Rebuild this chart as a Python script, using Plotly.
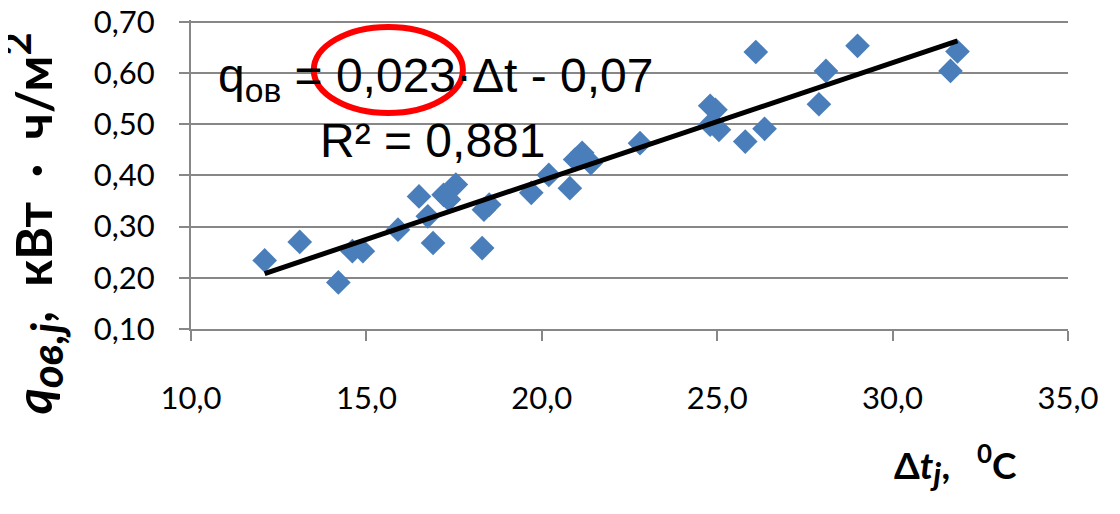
import plotly.graph_objects as go

# Data
dt = [12.1, 13.1, 14.2, 14.6, 14.9, 15.9, 16.5, 16.75, 16.9, 17.2, 17.35, 17.55,
      18.3, 18.35, 18.5, 19.7, 20.2, 20.8, 20.95, 21.15, 21.4, 22.8, 24.8, 24.95,
      24.8, 25.05, 25.8, 26.1, 26.35, 27.9, 28.1, 29.0, 31.65, 31.85]
q = [0.234, 0.270, 0.191, 0.252, 0.252, 0.294, 0.359, 0.320, 0.268, 0.362, 0.353, 0.382,
     0.258, 0.333, 0.343, 0.366, 0.401, 0.375, 0.431, 0.444, 0.424, 0.463, 0.536, 0.528,
     0.499, 0.489, 0.466, 0.641, 0.491, 0.539, 0.604, 0.653, 0.604, 0.642]

slope = 0.023
intercept = -0.07
x_ticks = [10, 15, 20, 25, 30, 35]
y_ticks = [0.1, 0.2, 0.3, 0.4, 0.5, 0.6, 0.7]

fit_x = [min(dt), max(dt)]
fit_y = [slope * v + intercept for v in fit_x]

GRID = "#878787"
TICKFONT = dict(family="Lato, Calibri, sans-serif", size=31, color="#000000")
YTITLEFONT = dict(family="Lato, Calibri, sans-serif", size=50, color="#000000")
XTITLEFONT = dict(family="Lato, Calibri, sans-serif", size=37, color="#000000")
EQFONT = dict(family="Liberation Sans, Arial, sans-serif", size=48, color="#000000")
NB = "\u00a0"

fig = go.Figure()
fig.add_trace(go.Scatter(x=dt, y=q, mode="markers",
                         marker=dict(symbol="diamond", size=19, color="#4A7EBB", line=dict(width=0)),
                         showlegend=False))
fig.add_trace(go.Scatter(x=fit_x, y=fit_y, mode="lines",
                         line=dict(color="#000000", width=5), showlegend=False))

# the page body adds an 8 px offset, so the figure is 16 px smaller and margins are shifted
fig.update_layout(
    width=1104, height=498,
    margin=dict(l=183, r=44, t=12, b=177, autoexpand=False),
    paper_bgcolor="white", plot_bgcolor="white",
    separators=", ",
    xaxis=dict(range=[10, 35], tickvals=x_ticks, tickformat=".1f", automargin=False,
               showgrid=False, zeroline=False, showline=True, linecolor=GRID, linewidth=2,
               ticks="outside", ticklen=10, tickwidth=2, tickcolor=GRID,
               tickfont=TICKFONT, ticklabelstandoff=31, ticklabeloverflow="allow"),
    yaxis=dict(range=[0.1, 0.7035], tickvals=y_ticks, tickformat=".2f", automargin=False,
               showgrid=True, gridcolor=GRID, gridwidth=2, zeroline=False,
               showline=True, linecolor=GRID, linewidth=2,
               ticks="outside", ticklen=10, tickwidth=2, tickcolor=GRID,
               tickfont=TICKFONT, ticklabelstandoff=18, ticklabeloverflow="allow"),
)

fig.add_shape(type="circle", xref="x", yref="y", x0=13.50, x1=17.75, y0=0.522, y1=0.690,
              line=dict(color="#FF0000", width=6))

fig.add_annotation(xref="x", yref="y", x=16.97, y=0.588, showarrow=False,
                   text="q<sub>ов</sub> = 0,023·Δt - 0,07", font=EQFONT,
                   xanchor="center", yanchor="middle")
fig.add_annotation(xref="x", yref="y", x=16.88, y=0.468, showarrow=False,
                   text="R² = 0,881", font=EQFONT, xanchor="center", yanchor="middle")

fig.add_annotation(xref="paper", yref="paper", x=-0.181, y=0.343, showarrow=False,
                   text=("<b><i>q</i><sub><i><span style='font-size:44px'>ов,j</span></i></sub>,"
                         + NB + " кВт" + NB + " ·" + NB + " ч/м<sup><span style='font-size:40px'>2</span></sup></b>"),
                   textangle=-90, font=YTITLEFONT, xanchor="center", yanchor="middle")
fig.add_annotation(xref="paper", yref="paper", x=0.872, y=-0.439, showarrow=False,
                   text=("<b>Δ<i>t</i><sub><i><span style='font-size:33px'>j</span></i></sub>,"
                         + NB + NB + " <sup>0</sup>C</b>"),
                   font=XTITLEFONT, xanchor="center", yanchor="middle")

fig.write_html("out.html")
